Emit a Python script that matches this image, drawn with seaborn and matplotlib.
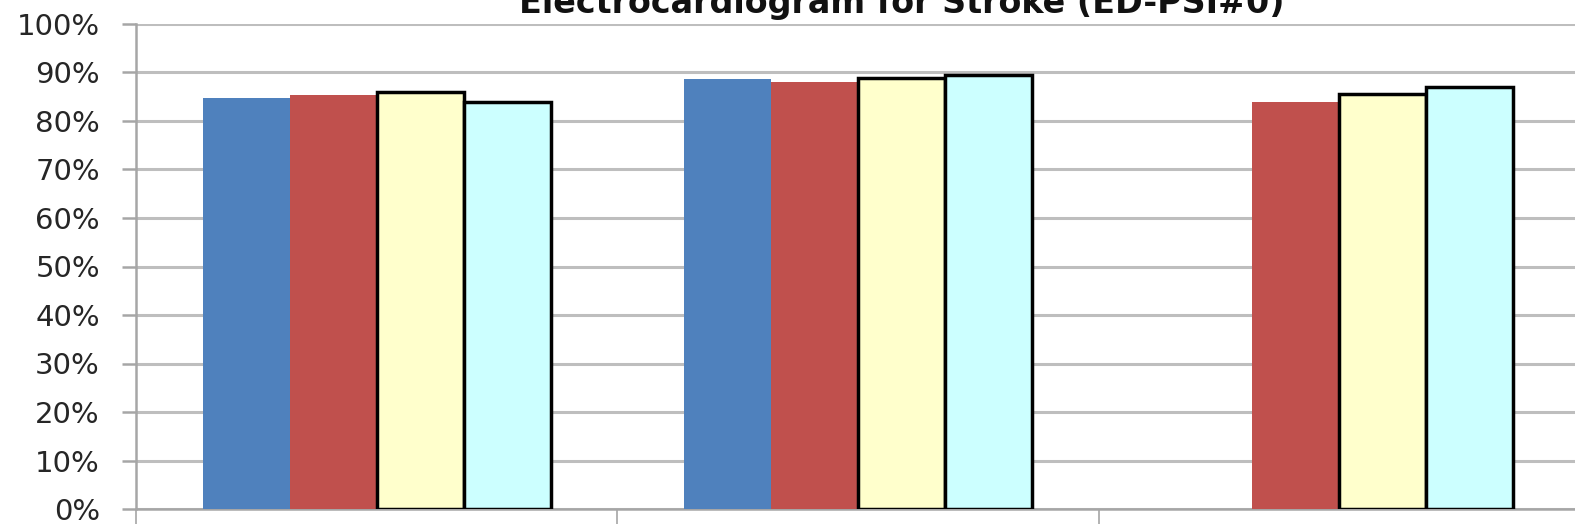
import numpy as np
import pandas as pd
import matplotlib
matplotlib.use("Agg")
import matplotlib.pyplot as plt
import seaborn as sns
from matplotlib.ticker import PercentFormatter, FixedLocator

# ── Data ──────────────────────────────────────────────────────────────────────
groups = ["Group 1", "Group 2", "Group 3"]
series_names = ["Series 1", "Series 2", "Series 3", "Series 4"]
s1_vals = [84.7, 88.6, np.nan]   # blue (no bar in group 3)
s2_vals = [85.4, 88.0, 84.0]     # red
s3_vals = [85.9, 88.8, 85.5]     # yellow
s4_vals = [83.9, 89.4, 87.0]     # cyan
y_ticks = [0, 10, 20, 30, 40, 50, 60, 70, 80, 90, 100]
title = "Electrocardiogram for Stroke (ED-PSI#0)"

colors = ["#4F81BD", "#C0504D", "#FFFFCC", "#CCFFFF"]
GRID = "#BEBEBE"

rows = []
for name, vals in zip(series_names, [s1_vals, s2_vals, s3_vals, s4_vals]):
    for g, v in zip(groups, vals):
        if not np.isnan(v):
            rows.append({"group": g, "series": name, "value": v})
df = pd.DataFrame(rows)

# ── Plot ──────────────────────────────────────────────────────────────────────
sns.set_style("white")
plt.rcParams["font.family"] = ["DejaVu Sans"]

fig = plt.figure(figsize=(15.75, 5.28), dpi=100)
ax = fig.add_axes([136 / 1575, 1 - 509 / 528, (1580 - 136) / 1575, (509 - 24) / 528])

sns.barplot(data=df, x="group", y="value", hue="series", order=groups,
            hue_order=series_names, palette=colors, saturation=1, errorbar=None,
            width=0.7235, gap=0, linewidth=0, ax=ax, legend=False, zorder=3)

for i, cont in enumerate(ax.containers):
    for bar in cont:
        if i >= 2:
            bar.set_edgecolor("black")
            bar.set_linewidth(2.5)
        else:
            bar.set_linewidth(0)

ax.set_xlim(-0.5, 2.5)
ax.set_ylim(0, 100)
ax.yaxis.set_major_locator(FixedLocator(y_ticks))
ax.yaxis.set_major_formatter(PercentFormatter(decimals=0))
ax.xaxis.set_major_locator(FixedLocator([-0.5, 0.5, 1.5, 2.5]))
ax.set_xticklabels([])
ax.set_xlabel("")
ax.set_ylabel("")

ax.grid(axis="y", color=GRID, linewidth=2.2, zorder=0)
ax.set_axisbelow(True)
for side in ["top", "right"]:
    ax.spines[side].set_visible(False)
for side in ["left", "bottom"]:
    ax.spines[side].set_color("#A6A6A6")
    ax.spines[side].set_linewidth(1.8)

ax.tick_params(axis="y", direction="out", length=10, width=1.8, color="#A6A6A6",
               pad=16, labelsize=21, labelcolor="#262626", left=True)
ax.tick_params(axis="x", direction="out", length=11, width=1.2, color="#A6A6A6",
               bottom=True)

fig.text(902 / 1575, 1 - 13 / 528, title, ha="center", va="baseline",
         fontsize=24, fontweight="bold", color="#111111")

fig.savefig("out.png", dpi=100)
